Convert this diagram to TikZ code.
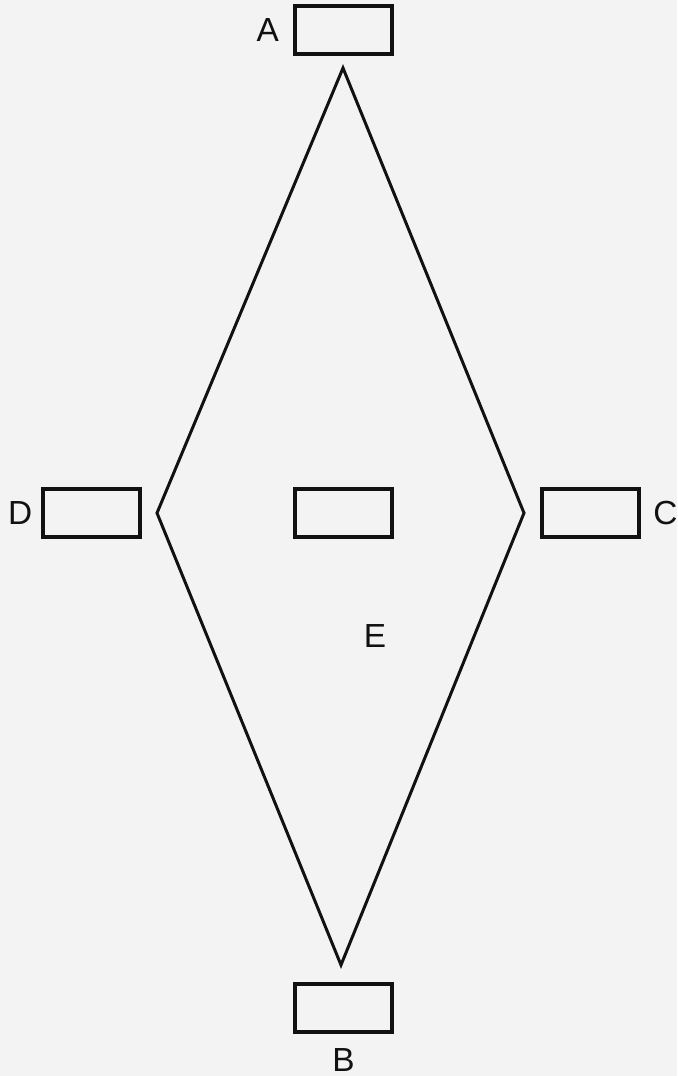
\documentclass[tikz,border=0pt]{standalone}
\usepackage{fontspec}
\setmainfont{Liberation Sans}
\usepackage{xcolor}
\usetikzlibrary{positioning}
\definecolor{cPaper}{HTML}{F3F3F3}
\definecolor{cInk}{HTML}{111111}

\begin{document}
\begin{tikzpicture}[
  x=0.02cm, y=-0.02cm,
  font=\fontsize{19}{22}\selectfont,
  slot/.style={draw=cInk,line width=2pt,minimum width=1.94cm,minimum height=0.96cm,inner sep=0pt},
  lbl/.style={text=cInk,inner sep=0pt},
  edge/.style={draw=cInk,line width=1.7pt,line join=miter}
]
\fill[cPaper] (0,0) rectangle (677,1076);
\useasboundingbox (0,0) rectangle (677,1076);
% --- the five boxes ---
\node[slot] (top) at (343.5,30) {};
\node[slot] (mid) at (343.5,513) {};
\node[slot] (lft) at (91.5,513) {};
\node[slot] (rgt) at (590.5,513) {};
\node[slot] (bot) at (343.5,1008) {};
\node[lbl,left=8pt of top] (la) {A};
\node[lbl,left=5pt of lft] (ld) {D};
\node[lbl,right=7pt of rgt] (lc) {C};
\node[lbl,below=8pt of bot] (lb) {B};
\node[lbl] (le) at (375,636) {E};
% --- rhombus ---
\coordinate (n) at (343,68);
\coordinate (e) at (524,513);
\coordinate (s) at (341,965);
\coordinate (w) at (157,513);
\draw[edge] (n) -- (e) -- (s) -- (w) -- cycle;
\end{tikzpicture}
\end{document}
